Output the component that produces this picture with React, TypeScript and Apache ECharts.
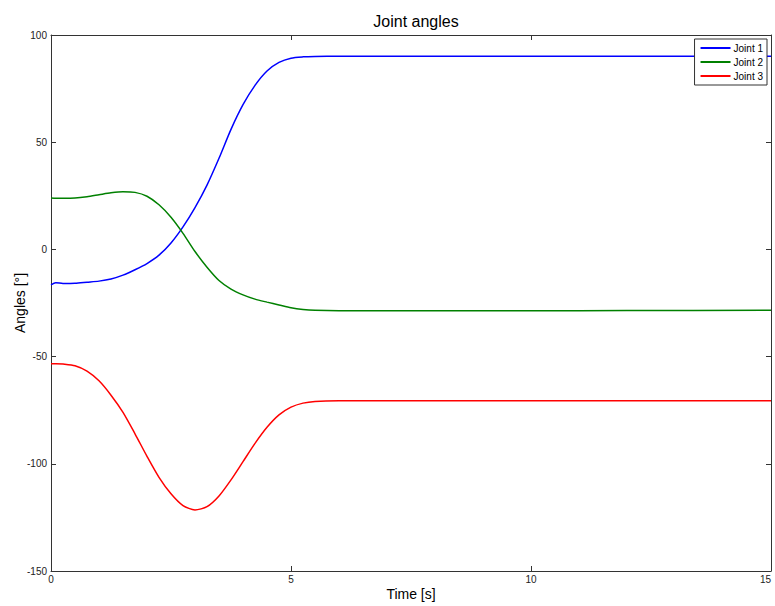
import React, { useEffect, useRef } from "react";
import * as echarts from "echarts";

const times = [0, 0.1, 0.25, 0.5, 0.75, 1, 1.25, 1.5, 1.75, 2, 2.25, 2.5, 2.75, 3, 3.25, 3.5, 3.75, 4, 4.25, 4.5, 4.75, 5, 5.25, 5.5, 6, 7, 8, 10, 12, 15];
const joint1 = [-16.5, -15.5, -15.9, -15.8, -15.3, -14.8, -13.8, -12, -9.5, -6.6, -2.7, 3, 10.5, 19.5, 30, 42.5, 56, 67.5, 76.5, 83.2, 87.2, 89.2, 89.8, 90, 90.1, 90.1, 90.1, 90.1, 90.1, 90.1];
const joint2 = [24, 23.9, 23.9, 24, 24.6, 25.5, 26.4, 26.9, 26.6, 24.8, 20.8, 15, 7.5, -1, -8.3, -14.5, -18.5, -21.2, -23.2, -24.6, -25.9, -27.2, -28, -28.4, -28.6, -28.6, -28.6, -28.6, -28.5, -28.4];
const joint3 = [-53.3, -53.3, -53.5, -54.3, -56.8, -61.3, -68, -76, -86, -96.5, -106.3, -114, -119.5, -121.5, -120, -115, -107.5, -99, -90.5, -83, -77.2, -73.6, -71.7, -70.9, -70.6, -70.6, -70.6, -70.6, -70.6, -70.6];

const seriesNames = ["Joint 1", "Joint 2", "Joint 3"];
const seriesColors = ["#0000ff", "#008000", "#ff0000"];
const seriesValues = [joint1, joint2, joint3];

const FONT = "'Liberation Sans', Arial, sans-serif";

export default function App() {
  const ref = useRef<HTMLDivElement>(null);
  useEffect(() => {
    document.body.style.margin = "0";
    const chart = echarts.init(ref.current!, null, { renderer: "svg" });
    const axisLine = { show: true, onZero: false, lineStyle: { color: "#333", width: 1 } };
    const tick = { show: true, inside: true, length: 5, lineStyle: { color: "#333" } };
    chart.setOption({
      animation: false,
      backgroundColor: "#fff",
      textStyle: { fontFamily: FONT },
      title: {
        text: "Joint angles",
        left: 411,
        textAlign: "center",
        top: 8,
        textStyle: { fontSize: 16, fontWeight: "normal", color: "#000", fontFamily: FONT },
      },
      legend: {
        data: seriesNames,
        orient: "vertical",
        right: 8,
        top: 39,
        icon: "rect",
        itemWidth: 30,
        itemHeight: 2,
        itemGap: 2,
        padding: [3, 4, 3, 6],
        borderColor: "#333",
        borderWidth: 1,
        backgroundColor: "#fff",
        textStyle: { fontSize: 10, color: "#000", fontFamily: FONT, lineHeight: 12, padding: [0, 0, 0, -2] },
      },
      grid: { left: 51, right: 4, top: 35, bottom: 35, show: false, containLabel: false, outerBoundsMode: "none" },
      xAxis: [
        {
          type: "value",
          min: 0,
          max: 15,
          interval: 5,
          position: "bottom",
          name: "Time [s]",
          nameLocation: "middle",
          nameGap: 16,
          nameMoveOverlap: false,
          nameTextStyle: { fontSize: 14, color: "#000", fontFamily: FONT },
          axisLine,
          axisTick: tick,
          splitLine: { show: false },
          axisLabel: { fontSize: 10, color: "#222", margin: 3, fontFamily: FONT, alignMaxLabel: "right" },
        },
        {
          type: "value",
          min: 0,
          max: 15,
          interval: 5,
          position: "top",
          axisLine,
          axisTick: tick,
          splitLine: { show: false },
          axisLabel: { show: false },
        },
      ],
      yAxis: [
        {
          type: "value",
          min: -150,
          max: 100,
          interval: 50,
          position: "left",
          name: "Angles [°]",
          nameLocation: "middle",
          nameGap: 24,
          nameMoveOverlap: false,
          nameRotate: 90,
          nameTextStyle: { fontSize: 14, color: "#000", fontFamily: FONT },
          axisLine,
          axisTick: tick,
          splitLine: { show: false },
          axisLabel: { fontSize: 10, color: "#222", margin: 4, fontFamily: FONT },
        },
        {
          type: "value",
          min: -150,
          max: 100,
          interval: 50,
          position: "right",
          axisLine,
          axisTick: tick,
          splitLine: { show: false },
          axisLabel: { show: false },
        },
      ],
      series: seriesNames.map((name, i) => ({
        name,
        type: "line",
        xAxisIndex: 0,
        yAxisIndex: 0,
        data: times.map((t, k) => [t, seriesValues[i][k]]),
        smooth: 0.25,
        showSymbol: false,
        symbol: "none",
        lineStyle: { color: seriesColors[i], width: 1.5 },
        itemStyle: { color: seriesColors[i] },
      })),
    });
    return () => chart.dispose();
  }, []);
  return <div ref={ref} style={{ width: 775, height: 606 }} />;
}
